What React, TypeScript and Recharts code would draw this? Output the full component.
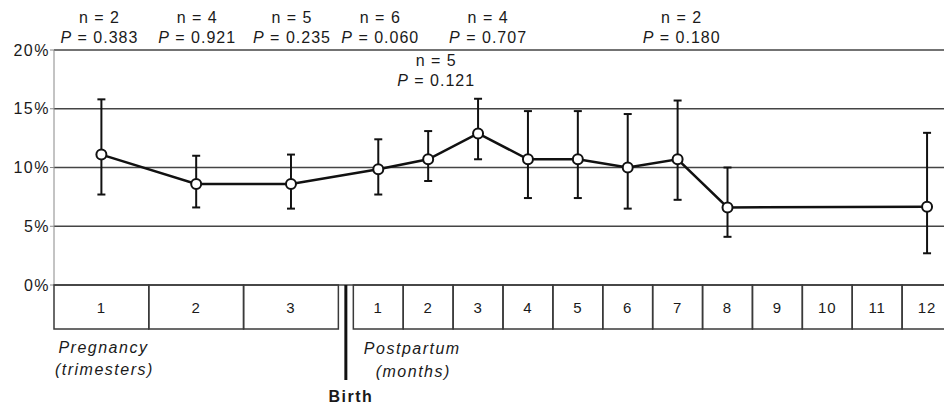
import React from 'react';
import { LineChart, Line, XAxis, YAxis, CartesianGrid, ErrorBar } from 'recharts';

// ---------------- data ----------------
const categories = ['1', '2', '3', '1', '2', '3', '4', '5', '6', '7', '8', '9', '10', '11', '12'];
const periodTypes = [
  'trimester', 'trimester', 'trimester',
  'month', 'month', 'month', 'month', 'month', 'month',
  'month', 'month', 'month', 'month', 'month', 'month',
];
const rates: (number | null)[] = [11.1, 8.6, 8.6, 9.85, 10.7, 12.9, 10.7, 10.7, 10.0, 10.7, 6.6, null, null, null, 6.65];
const lowerCI: (number | null)[] = [7.7, 6.6, 6.5, 7.7, 8.85, 10.7, 7.4, 7.4, 6.5, 7.25, 4.1, null, null, null, 2.7];
const upperCI: (number | null)[] = [15.8, 11.0, 11.1, 12.4, 13.1, 15.85, 14.8, 14.8, 14.55, 15.7, 10.0, null, null, null, 12.95];
const nLabels: (number | null)[] = [2, 4, 5, 6, 5, 4, null, null, null, 2, null, null, null, null, null];
const pValues: (string | null)[] = ['0.383', '0.921', '0.235', '0.060', '0.121', '0.707', null, null, null, '0.180', null, null, null, null, null];
const yTicks = [0, 5, 10, 15, 20];

// ---------------- layout ----------------
const FONT = '"Liberation Sans", Arial, Helvetica, sans-serif';
const W = 960;
const H = 408;
const Y_AXIS_W = 54;
const TOP_H = 50;
const BOTTOM_H = 123;
const RIGHT = 8;
const PLOT_W = W - Y_AXIS_W - RIGHT;
const PLOT_H = H - TOP_H - BOTTOM_H;
const TRI_SPAN = 1.9;
const MONTH_SPAN = 1;
const GAP = 0.3;
const BOX_H = 44;
const LOWERED_INDEX = 4;
const ANNOT_SHIFT = [-2, 1, 1, 2, 8, 10, 0, 0, 0, 4, 0, 0, 0, 0, 0];

const spans = periodTypes.map((t) => (t === 'trimester' ? TRI_SPAN : MONTH_SPAN));
const positions: number[] = [];
let cursor = 0;
periodTypes.forEach((t, i) => {
  if (i > 0 && t !== periodTypes[i - 1]) cursor += GAP;
  positions.push(cursor + spans[i] / 2);
  cursor += spans[i];
});
const X_MAX = cursor;
const UNIT = PLOT_W / X_MAX;
const firstMonth = periodTypes.indexOf('month');

const lineData = categories
  .map((c, i) =>
    rates[i] == null
      ? null
      : {
          x: positions[i],
          label: c,
          rate: rates[i] as number,
          ci: [(rates[i] as number) - (lowerCI[i] as number), (upperCI[i] as number) - (rates[i] as number)],
        }
  )
  .filter(Boolean) as any[];

const findIndex = (v: number) => positions.findIndex((p) => Math.abs(p - v) < 1e-6);

const textStyle = { fontFamily: FONT, fill: '#1a1a1a' };

const Annotation = ({ i, x, plotTop }: { i: number; x: number; plotTop: number }) => {
  if (nLabels[i] == null) return null;
  const base = i === LOWERED_INDEX ? plotTop + 15.5 : plotTop - 27.5;
  const ax = x + ANNOT_SHIFT[i];
  return (
    <text textAnchor="middle" fontSize={16} letterSpacing={1} style={textStyle}>
      <tspan x={ax} y={base}>{`n = ${nLabels[i]}`}</tspan>
      <tspan x={ax} y={base + 20}>
        <tspan fontStyle="italic">P</tspan>
        {` = ${pValues[i]}`}
      </tspan>
    </text>
  );
};

const BoxTick = (props: any) => {
  const { x, y, payload } = props;
  const i = findIndex(payload.value);
  if (i < 0) return null;
  const w = spans[i] * UNIT;
  const birthX = x - (MONTH_SPAN / 2) * UNIT - (GAP / 2) * UNIT;
  return (
    <g>
      <rect x={x - w / 2} y={y} width={w} height={BOX_H} fill="none" stroke="#3a3a3a" strokeWidth={1.5} />
      <text x={x} y={y + 28} textAnchor="middle" fontSize={15} letterSpacing={1} style={textStyle}>
        {categories[i]}
      </text>
      <Annotation i={i} x={x} plotTop={y - PLOT_H} />
      {i === 0 && (
        <text textAnchor="middle" fontSize={16} fontStyle="italic" letterSpacing={1.5} style={textStyle}>
          <tspan x={x + 2} y={y + 68}>Pregnancy</tspan>
          <tspan x={x + 3} y={y + 90}>(trimesters)</tspan>
        </text>
      )}
      {i === firstMonth && (
        <g>
          <line x1={birthX} y1={y} x2={birthX} y2={y + 95} stroke="#111" strokeWidth={3} />
          <text textAnchor="middle" fontSize={16} fontStyle="italic" letterSpacing={1.5} style={textStyle}>
            <tspan x={x + 34} y={y + 69}>Postpartum</tspan>
            <tspan x={x + 35} y={y + 92}>(months)</tspan>
          </text>
          <text x={birthX + 5} y={y + 117} textAnchor="middle" fontSize={16} fontWeight="bold" letterSpacing={1.5} style={textStyle}>
            Birth
          </text>
        </g>
      )}
    </g>
  );
};

export default function App() {
  return (
    <div style={{ position: 'absolute', left: 0, top: 0, width: 944, height: 408, overflow: 'hidden', background: '#fff' }}>
      <LineChart width={W} height={H} data={lineData} margin={{ top: TOP_H, right: RIGHT, bottom: 0, left: 0 }}>
        <CartesianGrid horizontal vertical={false} stroke="#444" strokeWidth={1.5} />
        <XAxis
          dataKey="x"
          type="number"
          domain={[0, X_MAX]}
          allowDataOverflow
          ticks={positions}
          interval={0}
          height={BOTTOM_H}
          axisLine={false}
          tickLine={false}
          tickSize={0}
          tickMargin={0}
          tick={BoxTick}
        />
        <YAxis
          type="number"
          domain={[0, 20]}
          ticks={yTicks}
          interval={0}
          width={Y_AXIS_W}
          tickFormatter={(v: number) => `${v}%`}
          axisLine={{ stroke: '#888', strokeWidth: 1 }}
          tickLine={{ stroke: '#888', strokeWidth: 1 }}
          tickSize={4}
          tickMargin={0}
          tick={{ fontSize: 16, fill: '#1a1a1a', fontFamily: FONT, letterSpacing: 1.5 }}
        />
        <Line
          dataKey="rate"
          type="linear"
          stroke="#111"
          strokeWidth={2.5}
          dot={{ r: 5, fill: '#fff', stroke: '#111', strokeWidth: 2 }}
          activeDot={false}
          isAnimationActive={false}
        >
          <ErrorBar dataKey="ci" direction="y" width={4} stroke="#111" strokeWidth={2} isAnimationActive={false} />
        </Line>
      </LineChart>
    </div>
  );
}
